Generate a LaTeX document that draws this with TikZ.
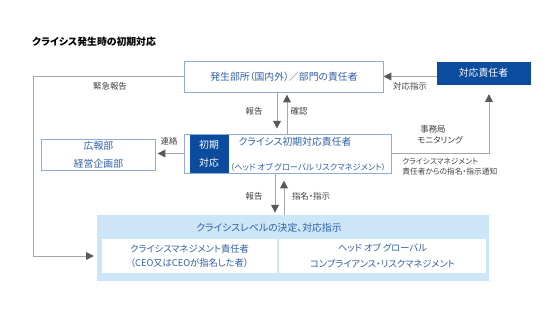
\documentclass[tikz,border=0pt]{standalone}
\usepackage{fontspec}
\setmainfont{Noto Sans CJK JP}[RawFeature={+palt}]
\usepackage{xcolor}
\usetikzlibrary{arrows.meta, positioning, calc}

\definecolor{frameblue}{HTML}{8FAADC}
\definecolor{txtblue}{HTML}{2F5FAA}
\definecolor{darkblue}{HTML}{0B4C9E}
\definecolor{paleblue}{HTML}{CCE6F8}
\definecolor{lineGray}{HTML}{A6A6A6}
\definecolor{tipGray}{HTML}{595959}
\definecolor{lblGray}{HTML}{404040}

\tikzset{
  wbox/.style={draw=frameblue, line width=0.7pt, fill=white, text=txtblue, align=center,
    inner sep=0pt, font=\fontsize{7}{12.7}\selectfont},
  dbox/.style={draw=darkblue, fill=darkblue, text=white, align=center, inner sep=0pt,
    font=\fontsize{7}{12.7}\selectfont},
  btxt/.style={text=txtblue, inner sep=0pt, font=\fontsize{7}{9}\selectfont},
  lbl/.style={text=lblGray, inner sep=0pt, font=\fontsize{6}{7}\selectfont},
  slbl/.style={text=lblGray, inner sep=0pt, align=left, font=\fontsize{5.5}{7.2}\selectfont},
  arr/.style={draw=lineGray, line width=0.7pt, -{Triangle[length=5.5pt, width=5.5pt, color=tipGray]}}
}

\begin{document}
\begin{tikzpicture}[x=0.025cm, y=-0.025cm]
\useasboundingbox (0,0) rectangle (560,315);

\node[anchor=west, inner sep=0pt, font=\fontsize{7}{8}\selectfont\bfseries] (title) at (32,42) {クライシス発生時の初期対応};

% Boxes
\node[wbox, minimum width=4.95cm, minimum height=0.775cm] (top) at (284,76.5) {発生部所（国内外）／部門の責任者};
\node[dbox, minimum width=2.325cm, minimum height=0.55cm] (resp) at (483.5,73) {対応責任者};
\node[wbox, minimum width=5.15cm, minimum height=0.975cm] (mid) at (288,153.5) {};
\node[dbox, minimum width=0.95cm, minimum height=0.925cm] (shoki) at (209,153.5) {初期\\対応};
\node[btxt] (midA) at (295,142) {クライシス初期対応責任者};
\node[btxt, font=\fontsize{5.9}{8}\selectfont] (midB) at (308,167) {（ヘッド\ オブ\ グローバル\ リスクマネジメント）};
\node[wbox, minimum width=2.825cm, minimum height=0.775cm] (koho) at (98.5,154.5) {広報部\\経営企画部};

% Decision area
\node[fill=paleblue, minimum width=9.8cm, minimum height=1.65cm, inner sep=0pt] (outer) at (293,248) {};
\node[btxt] (otitle) at (269,228) {クライシスレベルの決定、対応指示};
\node[wbox, draw=none, minimum width=4.375cm, minimum height=0.85cm, font=\fontsize{6.6}{10.5}\selectfont] (lin) at (189.5,256) {クライシスマネジメント責任者\\（CEO又はCEOが指名した者）};
\node[wbox, draw=none, minimum width=5.175cm, minimum height=0.85cm, font=\fontsize{6.6}{11.5}\selectfont] (rin) at (382.5,256) {ヘッド\ オブ\ グローバル\\コンプライアンス・リスクマネジメント};

% Columns of connectors
\coordinate (lft) at (33,0);
\coordinate (rgt) at (489,0);
\coordinate (d1) at (277,0);
\coordinate (u1) at (287,0);
\coordinate (d2) at (275,0);
\coordinate (u2) at (284,0);

% Connectors
\draw[arr] (resp.west |- top.east) -- (top.east);
\draw[arr, shorten >=2pt] (top.west) -- (top.west -| lft) |- (outer.west |- lin.west);
\draw[arr, shorten >=3.5pt] (top.south -| d1) -- (mid.north -| d1);
\draw[arr, shorten >=1.5pt] (mid.north -| u1) -- (top.south -| u1);
\draw[arr, shorten >=1.5pt] (mid.south -| d2) -- (outer.north -| d2);
\draw[arr, shorten >=5pt] (outer.north -| u2) -- (mid.south -| u2);
\draw[arr, shorten >=1.5pt] (mid.west) -- (mid.west -| koho.east);
\draw[arr, shorten >=7pt] (mid.east) -| (resp.south -| rgt);

% Labels
\node[lbl] (kinkyu) at (110,86) {緊急報告};
\node[lbl] (shiji) at (410,86) {対応指示};
\node[lbl] (hokoku1) at (254,111) {報告};
\node[lbl] (kakunin) at (299,111) {確認};
\node[lbl] (hokoku2) at (254,196) {報告};
\node[lbl] (shimei) at (311,196) {指名・指示};
\node[lbl] (renraku) at (169,141) {連絡};
\node[lbl] (jimu) at (433,129) {事務局};
\node[lbl] (moni) at (440,140) {モニタリング};
\node[slbl, anchor=north west] (tsuchi) at (402,158) {クライシスマネジメント\\責任者からの指名・指示通知};

\end{tikzpicture}
\end{document}
